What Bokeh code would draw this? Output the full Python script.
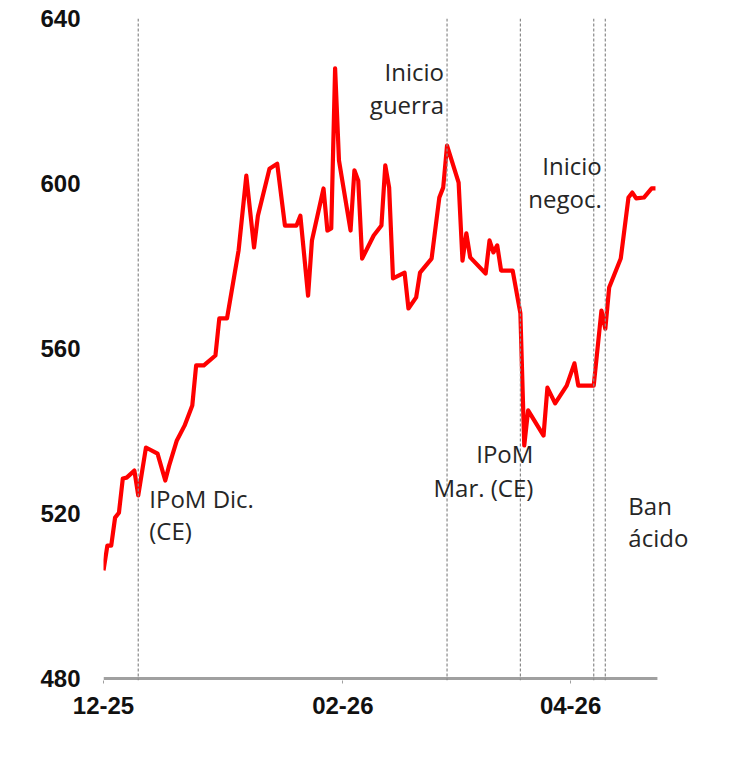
import pandas as pd
from bokeh.plotting import figure
from bokeh.models import Span, Label, FixedTicker, Range1d
from bokeh.embed import file_html
from bokeh.resources import INLINE

# ---- data ----
dates = ["2025-12-01", "2025-12-02", "2025-12-03", "2025-12-04", "2025-12-05", "2025-12-06",
         "2025-12-07", "2025-12-09", "2025-12-10", "2025-12-12", "2025-12-15", "2025-12-17",
         "2025-12-18", "2025-12-20", "2025-12-22", "2025-12-24", "2025-12-25", "2025-12-27",
         "2025-12-30", "2025-12-31", "2026-01-02", "2026-01-05", "2026-01-07", "2026-01-09",
         "2026-01-10", "2026-01-13", "2026-01-15", "2026-01-17", "2026-01-20", "2026-01-21",
         "2026-01-23", "2026-01-24", "2026-01-27", "2026-01-28", "2026-01-29", "2026-01-30",
         "2026-01-31", "2026-02-03", "2026-02-04", "2026-02-05", "2026-02-06", "2026-02-09",
         "2026-02-11", "2026-02-12", "2026-02-13", "2026-02-14", "2026-02-17", "2026-02-18",
         "2026-02-20", "2026-02-21", "2026-02-24", "2026-02-26", "2026-02-27", "2026-02-28",
         "2026-03-03", "2026-03-04", "2026-03-05", "2026-03-06", "2026-03-10", "2026-03-11",
         "2026-03-12", "2026-03-13", "2026-03-14", "2026-03-17", "2026-03-19", "2026-03-20",
         "2026-03-21", "2026-03-25", "2026-03-26", "2026-03-28", "2026-03-31", "2026-04-02",
         "2026-04-03", "2026-04-07", "2026-04-09", "2026-04-10", "2026-04-11", "2026-04-14",
         "2026-04-16", "2026-04-17", "2026-04-18", "2026-04-20", "2026-04-22", "2026-04-23"]
values = [506.2, 512.2, 512.2, 519.0, 520.2, 528.5,
          528.7, 530.4, 524.4, 536.0, 534.5, 528.0,
          531.6, 537.7, 541.3, 546.2, 555.9, 555.9,
          558.3, 567.3, 567.3, 583.8, 601.9, 584.5,
          592.2, 603.6, 604.8, 589.8, 589.8, 592.2,
          572.8, 586.2, 598.8, 588.6, 589.1, 627.9,
          605.6, 588.6, 603.2, 600.7, 581.8, 587.4,
          589.8, 604.4, 599.0, 577.0, 578.4, 569.7,
          572.4, 578.4, 581.8, 596.6, 599.0, 609.2,
          600.2, 581.3, 587.9, 582.1, 578.2, 586.2,
          583.3, 585.0, 578.9, 578.9, 568.5, 536.5,
          545.0, 538.9, 550.5, 546.7, 551.0, 556.4,
          551.0, 551.0, 569.2, 564.8, 574.8, 581.8,
          596.6, 597.8, 596.4, 596.6, 598.8, 598.8]

event_dates = ["2025-12-10", "2026-02-28", "2026-03-19", "2026-04-07", "2026-04-10"]

tick_dates = ["2025-12-01", "2026-02-01", "2026-04-01"]
tick_labels = ["12-25", "02-26", "04-26"]

y_ticks = [480, 520, 560, 600, 640]
y_min, y_max = 480, 640
x_start = "2025-12-01"
axis_span_days = 143.5      # visible x-axis line length
frame_span_days = 154.66    # frame extends to the right to leave room for text

# annotations: (text lines, event index, align, x_offset px, baselines in value units)
annotations = [
    (["IPoM Dic.", "(CE)"], 0, "left", 11, [523.7, 515.9]),
    (["Inicio", "guerra"], 1, "right", -3, [627.1, 619.1]),
    (["IPoM", "Mar. (CE)"], 2, "right", 13, [534.6, 526.4]),
    (["Inicio", "negoc."], 3, "right", 8, [604.3, 596.4]),
    (["Ban", "ácido"], 4, "left", 23, [521.9, 514.1]),
]

# ---- figure ----
x = pd.to_datetime(dates)
x0 = pd.Timestamp(x_start)
x1 = x0 + pd.Timedelta(days=frame_span_days)
x_axis_end = x0 + pd.Timedelta(days=axis_span_days)

p = figure(width=720, height=760, x_axis_type="datetime",
           x_range=Range1d(x0, x1), y_range=Range1d(y_min - 0.485, y_max),
           output_backend="svg", toolbar_location=None,
           min_border_left=103, min_border_right=20,
           min_border_top=18, min_border_bottom=80)
p.outline_line_color = None
p.grid.visible = False
p.background_fill_color = "white"
p.border_fill_color = "white"

def ms(d):
    return pd.Timestamp(d).value / 1e6

for d in event_dates:
    p.add_layout(Span(location=ms(d), dimension="height", line_color="#8a8a8a",
                      line_width=1.2, line_dash="3 2"))

# x-axis baseline
p.segment(x0=[x0], y0=[y_min], x1=[x_axis_end], y1=[y_min],
          line_color="#a0a0a0", line_width=3)

p.line(x, values, line_color="#ff0000", line_width=4.2, line_join="round")

for lines, ei, align, xo, bases in annotations:
    for txt, b in zip(lines, bases):
        p.add_layout(Label(x=ms(event_dates[ei]), y=b, text=txt, x_offset=xo,
                           text_align=align, text_baseline="alphabetic",
                           text_font="Open Sans", text_font_size="24px",
                           text_color="#262626"))

# x axis
xa = p.xaxis[0]
tick_ms = [ms(d) for d in tick_dates]
xa.ticker = FixedTicker(ticks=tick_ms)
xa.major_label_overrides = {t: l for t, l in zip(tick_ms, tick_labels)}
xa.axis_line_color = None
xa.major_tick_line_color = "#a0a0a0"
xa.major_tick_in = 0
xa.major_tick_out = 3
xa.minor_tick_line_color = None
xa.major_label_standoff = 13
xa.major_label_text_font = "Liberation Sans"
xa.major_label_text_font_style = "bold"
xa.major_label_text_font_size = "24px"
xa.major_label_text_color = "#111111"

# y axis
ya = p.yaxis[0]
ya.ticker = FixedTicker(ticks=y_ticks)
ya.axis_line_color = None
ya.major_tick_line_color = None
ya.minor_tick_line_color = None
ya.major_tick_in = 0
ya.major_tick_out = 0
ya.major_label_standoff = 23
ya.major_label_text_font = "Liberation Sans"
ya.major_label_text_font_style = "bold"
ya.major_label_text_font_size = "24px"
ya.major_label_text_color = "#111111"

open("out.html", "w").write(file_html(p, INLINE))
